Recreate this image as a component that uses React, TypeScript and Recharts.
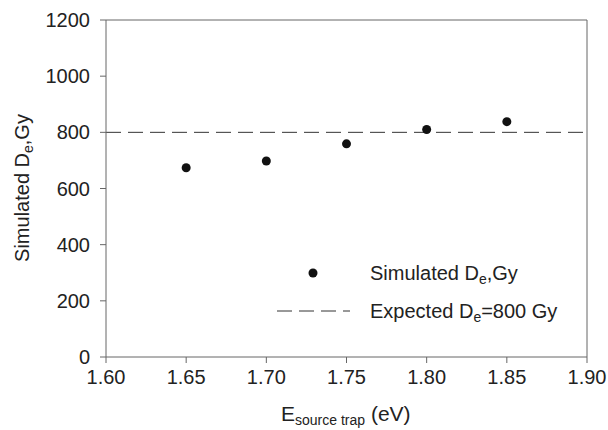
import React from 'react';
import { ScatterChart, Scatter, XAxis, YAxis, ReferenceLine } from 'recharts';

const energies = [1.65, 1.7, 1.75, 1.8, 1.85];
const simulatedDe = [674, 698, 759, 810, 838];
const expectedDe = 800;
const xTicks = [1.6, 1.65, 1.7, 1.75, 1.8, 1.85, 1.9];
const yTicks = [0, 200, 400, 600, 800, 1000, 1200];

const data = energies.map((e, i) => ({ e, de: simulatedDe[i] }));

const FONT = '"Liberation Sans", Arial, Helvetica, sans-serif';
const TXT = '#222';
const AXIS = '#666';
const FS = 20;

const renderDot = (props: any) => {
  const { cx, cy } = props;
  return <circle cx={cx} cy={cy} r={4.5} fill="#111" />;
};

const YLabel = () => {
  const x = 22;
  const y = 188;
  return (
    <text
      x={x}
      y={y}
      transform={`rotate(-90, ${x}, ${y})`}
      textAnchor="middle"
      dominantBaseline="central"
      fontFamily={FONT}
      fontSize={FS}
      fill={TXT}
    >
      Simulated D<tspan dy={6} fontSize={14}>e</tspan>
      <tspan dy={-6}>,Gy</tspan>
    </text>
  );
};

const XLabel = () => {
  return (
    <text x={281} y={421} fontFamily={FONT} fontSize={21} fill={TXT}>
      E<tspan dy={4} fontSize={14}>source trap</tspan>
      <tspan dy={-4}> (eV)</tspan>
    </text>
  );
};

const LegendOverlay = () => (
  <svg
    width={608}
    height={430}
    style={{ position: 'absolute', left: 0, top: 0, pointerEvents: 'none' }}
  >
    <circle cx={313} cy={273} r={4.5} fill="#111" />
    <text x={370} y={273} dominantBaseline="central" fontFamily={FONT} fontSize={FS} fill={TXT}>
      Simulated D<tspan dy={6} fontSize={14}>e</tspan>
      <tspan dy={-6}>,Gy</tspan>
    </text>
    <line x1={277} x2={350} y1={311} y2={311} stroke="#333" strokeWidth={1} strokeDasharray="15 7" />
    <text x={370} y={311} dominantBaseline="central" fontFamily={FONT} fontSize={FS} fill={TXT}>
      Expected D<tspan dy={6} fontSize={14}>e</tspan>
      <tspan dy={-6}>=800 Gy</tspan>
    </text>
  </svg>
);

export default function App() {
  return (
    <div style={{ position: 'absolute', left: 0, top: 0, width: 608, height: 430, background: '#fff' }}>
      <ScatterChart width={608} height={430} margin={{ top: 20, right: 21, bottom: 23, left: 0 }}>
        <XAxis
          type="number"
          dataKey="e"
          domain={[1.6, 1.9]}
          ticks={xTicks}
          tickFormatter={(v: number) => v.toFixed(2)}
          height={50}
          stroke={AXIS}
          tickSize={6}
          tickMargin={7}
          tick={{ fill: TXT, fontSize: FS, fontFamily: FONT }}
          label={<XLabel />}
          allowDataOverflow
        />
        <YAxis
          type="number"
          dataKey="de"
          domain={[0, 1200]}
          ticks={yTicks}
          width={106}
          stroke={AXIS}
          tickSize={6}
          tickMargin={10}
          tick={{ fill: TXT, fontSize: FS, fontFamily: FONT }}
          label={<YLabel />}
          allowDataOverflow
        />
        <ReferenceLine y={1200} stroke={AXIS} strokeWidth={1} />
        <ReferenceLine x={1.9} stroke={AXIS} strokeWidth={1} />
        <ReferenceLine y={expectedDe} stroke="#333" strokeWidth={1} strokeDasharray="15 7" />
        <Scatter data={data} shape={renderDot} isAnimationActive={false} />
      </ScatterChart>
      <LegendOverlay />
    </div>
  );
}
